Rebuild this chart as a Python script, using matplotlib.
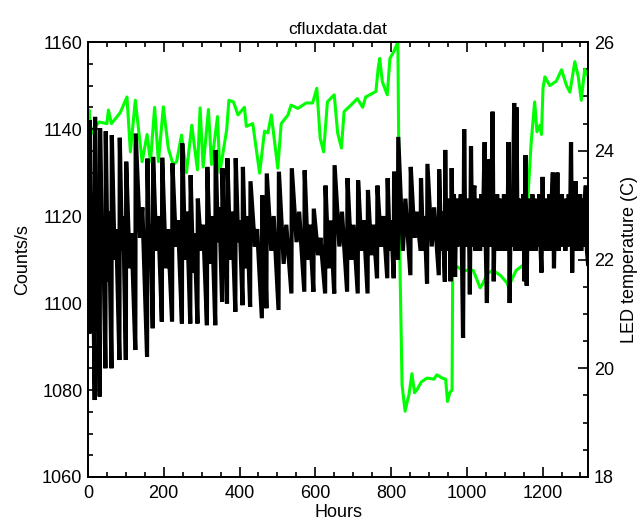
import numpy as np
import matplotlib
matplotlib.use("Agg")
import matplotlib.pyplot as plt
from matplotlib.ticker import MultipleLocator

plt.rcParams['font.family'] = ['Liberation Sans', 'DejaVu Sans']

# ---- Counts/s (black): daily sawtooth, reset times, value before reset, value after reset
reset_hours = [4, 17.8, 31, 46, 62, 83, 100, 125, 156, 171,
               195, 222, 248, 270, 289, 314, 336, 354, 367, 389,
               408, 428, 459, 471, 503, 537, 571, 595, 626, 650,
               684, 712, 738, 763, 790, 807, 818, 851, 878, 895,
               926, 942]
trough_counts = [1093, 1077.7, 1078.5, 1085, 1085, 1086.9, 1086.9, 1089.2, 1087.6, 1094.2,
                 1095.7, 1095.7, 1095.3, 1095.3, 1095.3, 1094.9, 1094.9, 1100.3, 1099.9, 1098,
                 1099.5, 1099.1, 1096.5, 1098.8, 1098.4, 1102.2, 1102.6, 1102.6, 1102.2, 1102.2,
                 1102.6, 1102.2, 1102.2, 1105.7, 1105.7, 1105.7, 1110, 1106.4, 1112, 1104.5,
                 1106.4, 1104.9]
peak_counts = [1142, 1142.8, 1140.2, 1139.5, 1138.6, 1138, 1132.5, 1139, 1133.2, 1133.6,
               1133.4, 1132.1, 1136.7, 1129.4, 1124, 1131.3, 1135.2, 1131, 1133.3, 1133.3,
               1131.3, 1128, 1124.8, 1129.8, 1130.2, 1131, 1130.5, 1121.7, 1127, 1131.7,
               1128.7, 1128.2, 1126, 1127, 1128.7, 1130.2, 1138.2, 1131.3, 1128.7, 1132,
               1130.7, 1135.2]
# mid-cycle dip and bump within each daily decline
mid_dip = [1110, 1108, 1112, 1105, 1110, 1112, 1108, 1115, 1110, 1112,
           1108, 1113, 1110, 1107, 1112, 1109, 1114, 1112, 1110, 1114,
           1108, 1113, 1110, 1112, 1109, 1114, 1110, 1111, 1108, 1113,
           1110, 1112, 1111, 1113, 1112, 1115, 1112, 1115, 1112, 1113,
           1112]
mid_bump = [1118, 1120, 1118, 1121, 1117, 1120, 1116, 1122, 1118, 1120,
            1117, 1119, 1121, 1116, 1118, 1120, 1122, 1118, 1121, 1119,
            1120, 1117, 1116, 1120, 1118, 1121, 1118, 1115, 1119, 1121,
            1118, 1119, 1118, 1120, 1119, 1122, 1124, 1121, 1120, 1122,
            1121]
start_hour, start_count = 0, 1130

# dense part of the counts record (945 h to 1320 h, evenly sampled)
dense_start, dense_end = 945, 1320
dense_counts = [1112, 1124, 1114, 1123, 1105, 1131, 1113, 1125, 1106,
                1124, 1113, 1123, 1115, 1125, 1112, 1092, 1140, 1113, 1124,
                1114, 1122, 1102, 1136, 1113, 1125, 1127, 1112, 1124, 1114,
                1123, 1112, 1125, 1113, 1124, 1137, 1113, 1100, 1124, 1133,
                1113, 1124, 1144, 1105, 1123, 1113, 1125, 1112, 1124, 1114,
                1123, 1112, 1125, 1113, 1124, 1112, 1137, 1100, 1124, 1113,
                1125, 1146, 1112, 1145, 1113, 1124, 1112, 1123, 1114, 1125,
                1105, 1134, 1104, 1124, 1113, 1123, 1112, 1125, 1114, 1124,
                1112, 1123, 1113, 1125, 1114, 1107, 1129, 1113, 1124, 1112,
                1123, 1114, 1125, 1112, 1124, 1130, 1108, 1123, 1113, 1130,
                1112, 1124, 1113, 1125, 1114, 1123, 1112, 1124, 1113, 1125,
                1114, 1137, 1107, 1124, 1113, 1128, 1112, 1123, 1114, 1125,
                1112, 1124, 1113, 1123, 1127, 1112, 1109]

# ---- LED temperature (green)
temp_hours = [0, 3, 8, 15, 30, 50, 54, 62, 85, 103, 112, 125, 143, 156, 165, 176, 186, 199,
              212, 225, 234, 247, 260, 274, 289, 296, 304, 318, 326, 342, 348, 366, 372, 384,
              396, 413, 418, 435, 453, 466, 475, 484, 501, 510, 528, 536, 554, 576, 593, 604,
              613, 622, 632, 650, 659, 669, 676, 694, 711, 725, 733, 760, 766, 770, 777, 790,
              797, 807, 818, 822, 829, 837, 843, 847, 855, 862, 868, 880, 895, 913, 921, 935,
              944, 949, 955, 961, 963, 966, 974, 990, 1017, 1035, 1040, 1055, 1070, 1090, 1106,
              1110, 1130, 1149, 1153, 1162, 1170, 1179, 1185, 1193, 1197, 1201, 1206, 1219,
              1236, 1250, 1263, 1272, 1285, 1294, 1302, 1311, 1320]
temp_values = [24.0, 24.75, 24.3, 24.42, 24.53, 24.5, 24.75, 24.5, 24.7, 24.99, 23.98, 24.93,
               23.8, 24.3, 23.8, 24.8, 23.8, 24.81, 24.05, 23.74, 23.8, 24.29, 23.6, 24.47,
               23.65, 24.79, 23.7, 24.76, 23.75, 24.63, 23.6, 24.38, 24.93, 24.9, 24.66, 24.8,
               24.45, 24.5, 23.59, 24.36, 24.33, 24.66, 23.68, 24.5, 24.66, 24.84, 24.78, 24.88,
               24.88, 25.15, 24.23, 23.98, 24.9, 25.03, 24.33, 24.05, 24.72, 24.84, 24.96, 24.8,
               24.99, 25.09, 25.52, 25.7, 25.27, 25.03, 25.7, 25.82, 26.0, 22.5, 19.7, 19.21,
               19.4, 19.5, 19.9, 19.55, 19.6, 19.75, 19.82, 19.8, 19.88, 19.82, 19.8, 19.39,
               19.55, 19.6, 22.2, 21.9, 21.87, 21.8, 21.8, 21.48, 21.53, 21.75, 21.8, 21.7,
               21.57, 21.5, 21.8, 21.9, 21.84, 23.25, 24.17, 24.9, 24.35, 24.47, 24.3, 25.15,
               25.36, 25.2, 25.28, 25.49, 25.2, 25.08, 25.64, 25.37, 24.93, 25.5, 25.37]

# ---- assemble the counts curve from the sawtooth description + dense record
cnt_h = [start_hour]
cnt_v = [start_count]
n = len(reset_hours)
for k in range(n):
    t = reset_hours[k]
    cnt_h += [t, t + 1]
    cnt_v += [trough_counts[k], peak_counts[k]]
    if k < n - 1:
        span = reset_hours[k + 1] - t
        cnt_h += [t + 0.4 * span, t + 0.6 * span]
        cnt_v += [mid_dip[k], mid_bump[k]]
dense_h = np.linspace(dense_start, dense_end, len(dense_counts))
cnt_h = np.concatenate([cnt_h, dense_h])
cnt_v = np.concatenate([cnt_v, dense_counts])

fig = plt.figure(figsize=(6.42, 5.24), dpi=100)
ax = fig.add_axes([0.137, 0.0897, 0.779, 0.830])
ax2 = ax.twinx()

ax2.plot(temp_hours, temp_values, color='#00ff00', lw=2.2, solid_joinstyle='round')
ax.plot(cnt_h, cnt_v, color='black', lw=3.0, solid_joinstyle='miter')

ax.set_zorder(ax2.get_zorder() + 1)
ax.patch.set_visible(False)

ax.set_xlim(0, 1320)
ax.set_ylim(1060, 1160)
ax2.set_ylim(18, 26)

ax.xaxis.set_major_locator(MultipleLocator(200))
ax.xaxis.set_minor_locator(MultipleLocator(50))
ax.yaxis.set_major_locator(MultipleLocator(20))
ax.yaxis.set_minor_locator(MultipleLocator(5))
ax2.yaxis.set_major_locator(MultipleLocator(2))
ax2.yaxis.set_minor_locator(MultipleLocator(0.5))

fs = 13
ax.tick_params(axis='x', which='both', direction='in', top=True, labelsize=fs, pad=6)
ax.tick_params(axis='y', which='both', direction='in', right=False, labelsize=fs, pad=4)
ax.tick_params(which='major', length=7, width=1.2)
ax.tick_params(which='minor', length=3.5, width=1.2)
ax2.tick_params(axis='y', which='both', direction='in', labelsize=fs, pad=4)
ax2.tick_params(which='major', length=7, width=1.2)
ax2.tick_params(which='minor', length=3.5, width=1.2)

for a in (ax, ax2):
    for s in a.spines.values():
        s.set_linewidth(1.3)

ax.set_xlabel('Hours', fontsize=fs, labelpad=1)
ax.set_ylabel('Counts/s', fontsize=fs, labelpad=8)
ax2.set_ylabel('LED temperature (C)', fontsize=fs, labelpad=5)
ax.set_title('cfluxdata.dat', fontsize=12.5, pad=6)

fig.savefig('out.png', dpi=100)
